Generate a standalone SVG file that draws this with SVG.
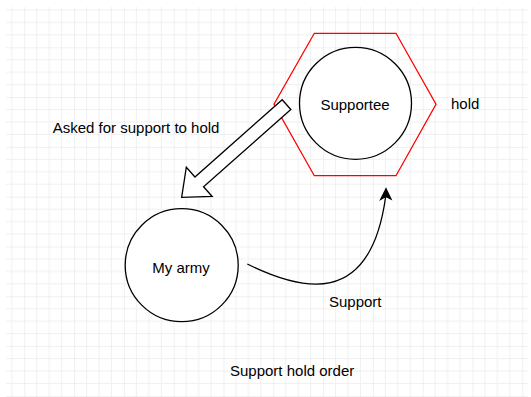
<svg xmlns="http://www.w3.org/2000/svg" width="531" height="397" viewBox="0 0 531 397">
  <defs>
    <pattern id="grid" patternUnits="userSpaceOnUse" x="24.3" y="47.3" width="49.8" height="49.8">
      <path d="M12.45 0V49.8M24.9 0V49.8M37.35 0V49.8M0 12.45H49.8M0 24.9H49.8M0 37.35H49.8" stroke="#f0f0f0" stroke-width="1" fill="none"/>
      <path d="M0 0V49.8M0 0H49.8" stroke="#e1e1e1" stroke-width="1" fill="none"/>
    </pattern>
  </defs>
  <style>
    .node { fill: #ffffff; stroke: #000000; stroke-width: 1.3; }
    .hex { fill: none; stroke: #ff0000; stroke-width: 1.3; }
    .lbl { font-family: "Liberation Sans", Arial, sans-serif; font-size: 15px; fill: #000000; }
    .edge { fill: none; stroke: #000000; stroke-width: 1.3; }
    .head { fill: #000000; stroke: #000000; stroke-width: 1.3; stroke-linejoin: miter; }
    .block { fill: #ffffff; stroke: #000000; stroke-width: 1.3; stroke-linejoin: miter; }
  </style>
  <rect x="0" y="0" width="531" height="397" fill="#ffffff"/>
  <rect x="6" y="7" width="522" height="390" fill="url(#grid)"/>

  <g id="hexagon">
    <polygon class="hex" points="314.3,33.3 396,33.3 436,104.3 396,175.7 314.3,175.7 274,104.3"/>
  </g>
  <g id="supportee">
    <circle class="node" cx="355.5" cy="103.3" r="56"/>
    <text class="lbl" x="355" y="109.5" text-anchor="middle">Supportee</text>
  </g>
  <g id="hold-label">
    <text class="lbl" x="451" y="108.5">hold</text>
  </g>
  <g id="my-army">
    <circle class="node" cx="181.7" cy="265.2" r="56.5"/>
    <text class="lbl" x="181" y="272.5" text-anchor="middle">My army</text>
  </g>
  <g id="asked-label">
    <text class="lbl" x="52.7" y="133">Asked for support to hold</text>
  </g>
  <g id="support-label">
    <text class="lbl" x="329" y="306.5">Support</text>
  </g>
  <g id="title">
    <text class="lbl" x="230" y="375.5">Support hold order</text>
  </g>

  <g id="connectors">
    <g transform="translate(286.5,104.65) rotate(138.5)">
      <polygon class="block" points="0,-6.5 116.5,-6.5 116.5,-19.5 140,0 116.5,19.5 116.5,6.5 0,6.5"/>
    </g>
    <path class="edge" d="M247.3,264 C300,290 370,310 385.6,197"/>
    <path class="head" d="M386,188.8 L391,199 L385.8,196.5 L380.7,199.4 Z"/>
  </g>
</svg>
